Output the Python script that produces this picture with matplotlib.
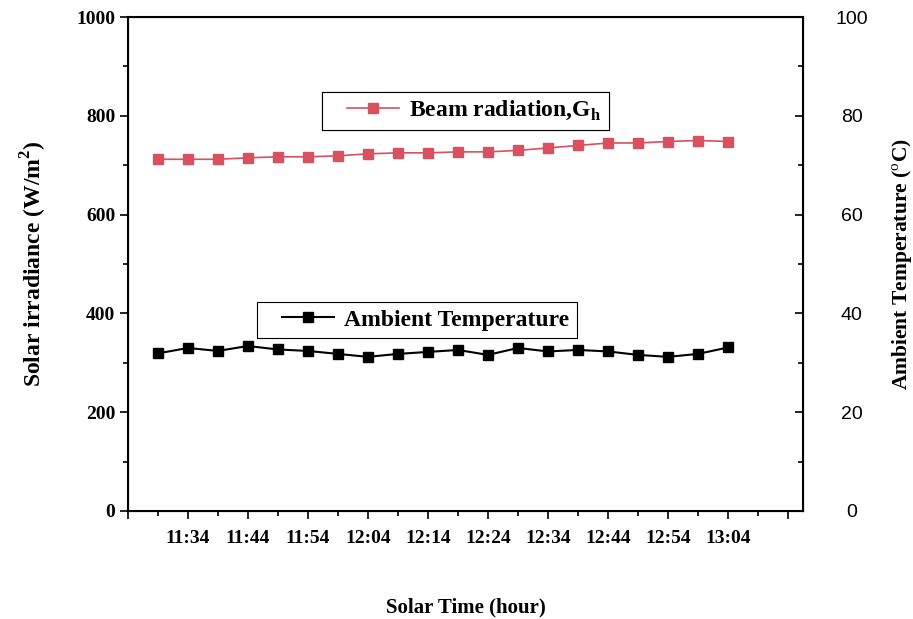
import numpy as np
import matplotlib
matplotlib.use('Agg')
import matplotlib.pyplot as plt
from matplotlib.ticker import MultipleLocator, FixedLocator
from matplotlib.legend_handler import HandlerLine2D

# Measurements, every 5 minutes
times = ['11:29', '11:34', '11:39', '11:44', '11:49', '11:54', '11:59', '12:04',
         '12:09', '12:14', '12:19', '12:24', '12:29', '12:34', '12:39', '12:44',
         '12:49', '12:54', '12:59', '13:04']
beam = [712, 712, 712, 715, 717, 717, 719, 723, 725, 725,
        727, 727, 730, 735, 740, 745, 745, 748, 750, 748]
ambient = [31.9, 33.0, 32.4, 33.4, 32.7, 32.4, 31.8, 31.2, 31.8, 32.2,
           32.6, 31.6, 33.0, 32.3, 32.6, 32.3, 31.6, 31.2, 31.8, 33.1]

def to_min(s):
    h, m = s.split(':')
    return int(h)*60 + int(m)

t = np.array([to_min(s) for s in times])

serif = 'Liberation Serif'
sans = 'Liberation Sans'
red = '#d9505e'

plt.rcParams['mathtext.fontset'] = 'custom'
plt.rcParams['mathtext.bf'] = 'Liberation Serif:bold'
plt.rcParams['mathtext.rm'] = 'Liberation Serif'

fig = plt.figure(figsize=(9.13, 6.19), dpi=100)
ax = fig.add_axes([0.140, 0.1745, 0.7395, 0.798])
ax2 = ax.twinx()

l1, = ax.plot(t, beam, '-s', color=red, lw=1.2, ms=7, mec=red, label='Beam radiation,G$_\\mathbf{h}$')
l2, = ax2.plot(t, ambient, '-s', color='black', lw=1.5, ms=7, label='Ambient Temperature')

ax.set_xlim(684, 796.5)
ax.set_ylim(0, 1000)
ax2.set_ylim(0, 100)

# x ticks every 10 minutes, minor in between
major = np.arange(684, 796, 10)
ax.xaxis.set_major_locator(FixedLocator(major))
ax.xaxis.set_minor_locator(FixedLocator(major[:-1] + 5))
labels = ['%d:%02d' % (m // 60, m % 60) for m in major]
labels[0] = ''
labels[-1] = ''
ax.set_xticklabels(labels)

ax.yaxis.set_major_locator(MultipleLocator(200))
ax.yaxis.set_minor_locator(MultipleLocator(100))
ax2.yaxis.set_major_locator(MultipleLocator(20))
ax2.yaxis.set_minor_locator(MultipleLocator(10))

ax.tick_params(axis='x', which='major', direction='out', length=6, width=1.2, pad=8)
ax.tick_params(axis='x', which='minor', direction='out', length=3.5, width=1.2)
ax.tick_params(axis='y', which='major', direction='out', length=6, width=1.2, pad=3)
ax.tick_params(axis='y', which='minor', direction='out', length=3.5, width=1.2)
ax2.tick_params(axis='y', which='major', direction='in', length=6, width=1.2, pad=35)
ax2.tick_params(axis='y', which='minor', direction='in', length=3.5, width=1.2)

for lab in ax.get_xticklabels() + ax.get_yticklabels():
    lab.set_fontfamily(serif)
    lab.set_fontweight('bold')
    lab.set_fontsize(14)
for lab in ax2.get_yticklabels():
    lab.set_fontfamily(sans)
    lab.set_fontsize(14)
    lab.set_horizontalalignment('center')

for sp in ax.spines.values():
    sp.set_linewidth(1.5)

ax.set_ylabel('Solar irradiance (W/m$^\\mathbf{2}$)', labelpad=20,
              family=serif, weight='bold', size=17)
ax.set_xlabel('Solar Time (hour)', labelpad=36, family=serif, weight='bold', size=15)
ax2.set_ylabel('Ambient Temperature ($^\\mathrm{o}$C)', labelpad=16,
               family=serif, weight='bold', size=15.5)

# legends with some blank space before the line sample
leg_kw = dict(bbox_transform=fig.transFigure, borderaxespad=0, loc='upper left',
              prop=dict(family=serif, weight='bold', size=17),
              fancybox=False, edgecolor='black', framealpha=1,
              handlelength=2.95, handletextpad=0.45, borderpad=0.3,
              handler_map={matplotlib.lines.Line2D: HandlerLine2D(xpad=0.75)})
leg1 = ax.legend(handles=[l1], bbox_to_anchor=(0.3527, 0.8514), **leg_kw)
leg1.get_frame().set_linewidth(0.8)
ax.add_artist(leg1)
leg2 = ax2.legend(handles=[l2], bbox_to_anchor=(0.2815, 0.5121), **leg_kw)
leg2.get_frame().set_linewidth(0.8)

fig.savefig('out.png', dpi=100)
